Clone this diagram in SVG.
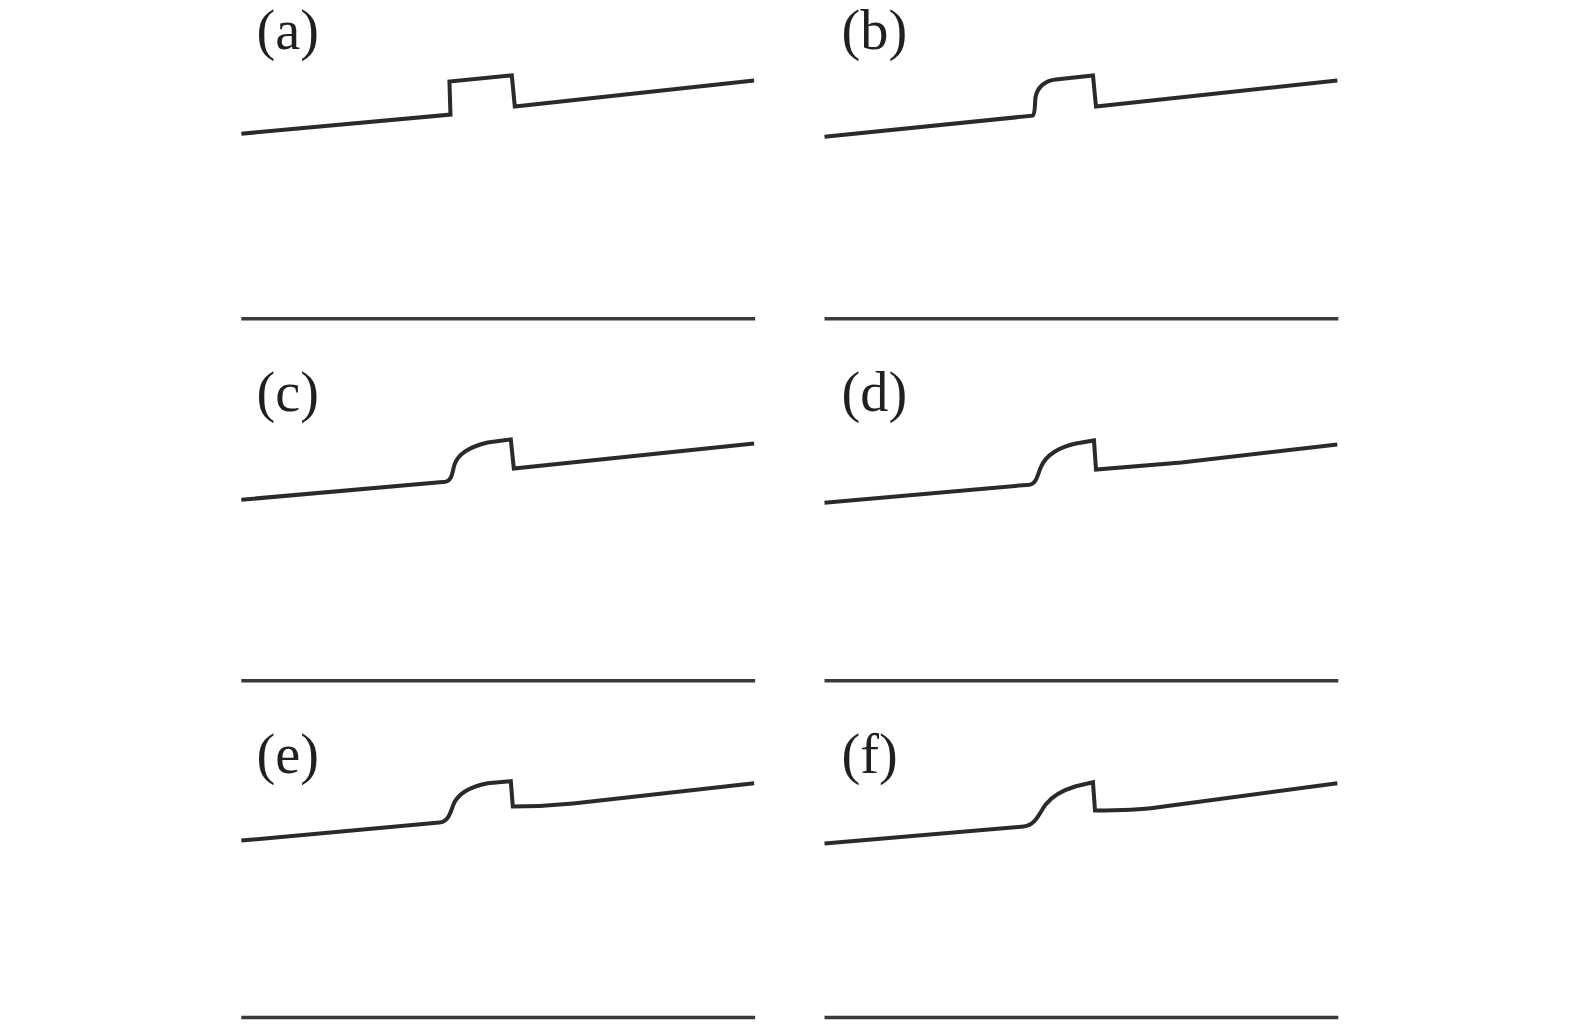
<svg xmlns="http://www.w3.org/2000/svg" width="1575" height="1025" viewBox="0 0 1575 1025">
<style>
.lbl{font-family:"Liberation Serif","Times New Roman",serif;font-size:56px;fill:#231f20}
.prof{fill:none;stroke:#2a2a2a;stroke-width:4;stroke-linejoin:miter;stroke-linecap:butt}
.base{fill:none;stroke:#3a3a3a;stroke-width:3.5}
</style>
<rect width="1575" height="1025" fill="#ffffff"/>
<g transform="scale(1.0055)">
<g id="panel-a">
<text class="lbl" x="255" y="49">(a)</text>
<path class="prof" d="M240,133 L448,114 L447,81 L509,75 L512,106 L750,80"/>
<line class="base" x1="240" y1="317" x2="751" y2="317"/>
</g>
<g id="panel-b">
<text class="lbl" x="837" y="49">(b)</text>
<path class="prof" d="M820,136 L1027,115 C1030,113 1029,100 1030,96 C1032,86 1040,80 1050,79 L1087,75 L1090,106 L1330,80"/>
<line class="base" x1="820" y1="317" x2="1331" y2="317"/>
</g>
<g id="panel-c">
<text class="lbl" x="255" y="409">(c)</text>
<path class="prof" d="M240,497 L443,479 C450,478 450,468 452,462 C456,450 468,444 485,440 L508,437 L511,466 L750,441"/>
<line class="base" x1="240" y1="677" x2="751" y2="677"/>
</g>
<g id="panel-d">
<text class="lbl" x="837" y="409">(d)</text>
<path class="prof" d="M820,500 L1024,482 C1031,481 1032,472 1035,465 C1040,452 1055,444 1070,441 L1088,438 L1090,467 L1175,460 L1330,442"/>
<line class="base" x1="820" y1="677" x2="1331" y2="677"/>
</g>
<g id="panel-e">
<text class="lbl" x="255" y="769">(e)</text>
<path class="prof" d="M240,836 L437,818 C446,817 448,808 451,800 C456,788 470,782 485,779 L508,777 L510,802 C530,802 550,801 570,799 L750,779"/>
<line class="base" x1="240" y1="1012" x2="751" y2="1012"/>
</g>
<g id="panel-f">
<text class="lbl" x="837" y="769">(f)</text>
<path class="prof" d="M820,839 L1018,822 C1030,821 1034,808 1040,800 C1048,790 1060,785 1070,782 L1087,778 L1089,806 C1110,806 1130,806 1150,803 L1330,779"/>
<line class="base" x1="820" y1="1012" x2="1331" y2="1012"/>
</g>
</g>
</svg>
